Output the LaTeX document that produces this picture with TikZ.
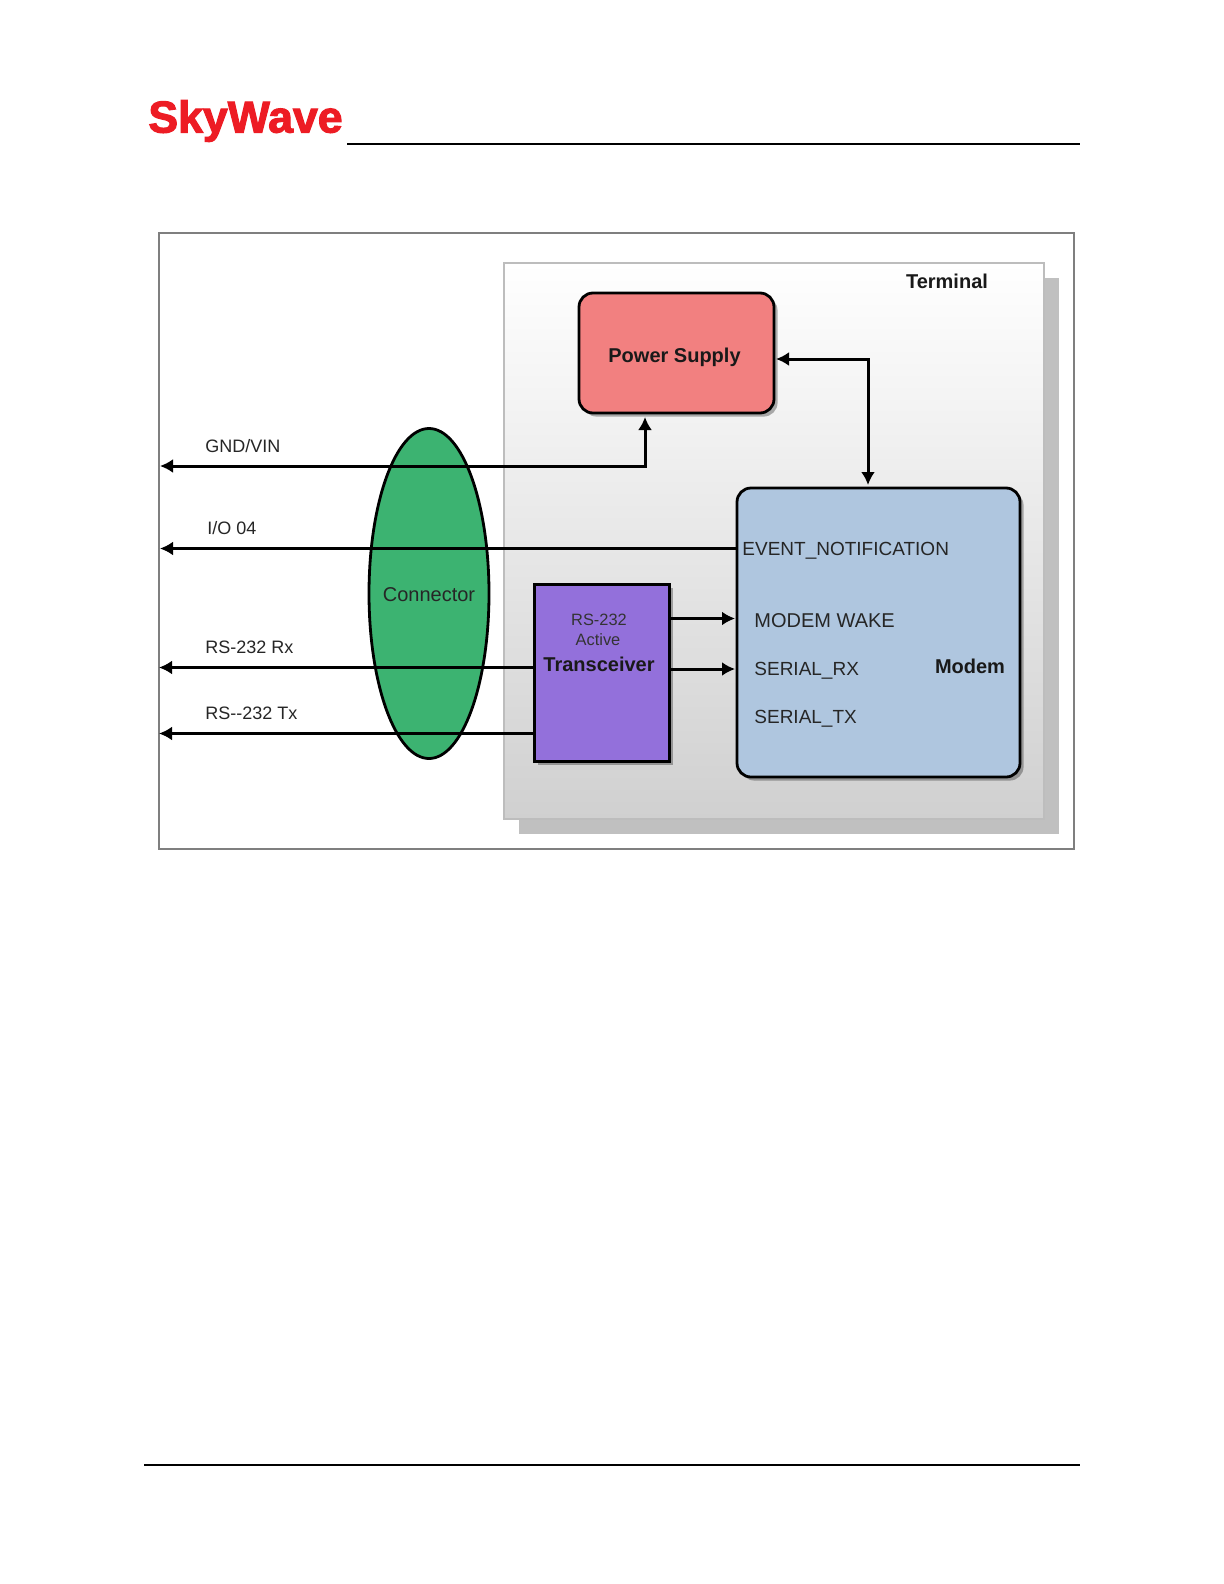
\documentclass[tikz,border=0pt]{standalone}
\usepackage{fontspec}
\setmainfont{Liberation Sans}
\newfontfamily\logofont[BoldFeatures={FakeBold=2.5}]{Liberation Sans}
\usetikzlibrary{arrows.meta,positioning,calc,shapes.geometric,shadows}
\usepackage{xcolor}
\definecolor{framegrey}{HTML}{7F7F7F}
\definecolor{termline}{HTML}{BDBDBD}
\definecolor{termshade}{HTML}{C0C0C0}
\definecolor{termlow}{HTML}{D0D0D0}
\definecolor{pwrred}{HTML}{F28080}
\definecolor{modemblue}{HTML}{AFC6DF}
\definecolor{xcvrpurple}{HTML}{9370DB}
\definecolor{connectgreen}{HTML}{3CB371}
\definecolor{logored}{HTML}{ED1C24}
\tikzset{
  blockshadow/.style={drop shadow={shadow xshift=1.8pt,shadow yshift=-1.8pt,fill=black,opacity=.3}},
  roundbox/.style={draw=black,line width=1.4pt,rounded corners=7pt,blockshadow,outer sep=0pt,inner sep=0pt},
  wire/.style={line width=1.5pt,draw=black},
  sigtext/.style={anchor=west,font=\fontsize{9.5}{12}\selectfont,text=black!85,inner sep=0pt},
  headtext/.style={font=\fontsize{10}{12}\selectfont\bfseries,text=black!90,inner sep=0pt},
  linetext/.style={sigtext,font=\fontsize{9}{11}\selectfont}
}
\begin{document}
\begin{tikzpicture}[x=0.5pt,y=-0.5pt,>={Latex[length=6.5pt,width=7pt]}]
  \useasboundingbox (0,0) rectangle (1224,1584);
  \fill[white] (0,0) rectangle (1224,1584);

  % page header and footer
  \node[anchor=west,inner sep=0pt,text=logored,font=\logofont\bfseries\fontsize{22.3}{24}\selectfont] (logo) at (148,121) {SkyWave};
  \coordinate (headl) at (347,144);
  \coordinate (headr) at (1080,144);
  \coordinate (footl) at (144,1465);
  \coordinate (footr) at (1080,1465);
  \draw[line width=1pt] (headl) -- (headr);
  \draw[line width=1pt] (footl) -- (footr);

  % outer frame
  \node[draw=framegrey,line width=1.1pt,minimum width=457.5pt,minimum height=308pt,inner sep=0pt] (frame) at (616.5,541) {};

  % terminal
  \fill[termshade] (519,278) rectangle (1059,834);
  \node[draw=termline,line width=1pt,top color=white,bottom color=termlow,minimum width=270pt,minimum height=278pt,inner sep=0pt] (terminal) at (774,541) {};
  \node[headtext] (termtext) at (947,281) {Terminal};

  % blocks
  \node[roundbox,fill=pwrred,minimum width=97.5pt,minimum height=60pt] (pwr) at (676.5,353) {};
  \node[headtext] (pwrtext) at (674.5,357) {Power Supply};
  \node[roundbox,fill=modemblue,minimum width=141.5pt,minimum height=144.5pt] (modem) at (878.5,632.5) {};
  \node[draw=black,line width=1.5pt,fill=xcvrpurple,blockshadow,minimum width=67.5pt,minimum height=88.5pt,inner sep=0pt,outer sep=0pt] (xcvr) at (601.5,673) {};
  \node[ellipse,draw=black,line width=1.4pt,fill=connectgreen,minimum width=60pt,minimum height=165pt,inner sep=0pt,outer sep=0pt] (connector) at (429,593.5) {};
  \node[inner sep=0pt,font=\fontsize{10}{12}\selectfont,text=black!85] (conntext) at (429,595) {Connector};

  % transceiver text
  \node[inner sep=0pt,font=\fontsize{8.2}{10}\selectfont,text=black!80] (rstext) at (599,620) {RS-232};
  \node[inner sep=0pt,font=\fontsize{8.2}{10}\selectfont,text=black!80] (activetext) at (598,640) {Active};
  \node[headtext] (xcvrtext) at (599,664) {Transceiver};

  % modem text
  \node[sigtext] (eventtext) at (742,551) {EVENT\_NOTIFICATION};
  \node[sigtext,font=\fontsize{10}{12}\selectfont] (waketext) at (754,621) {MODEM WAKE};
  \node[sigtext] (rxtext) at (754,671) {SERIAL\_RX};
  \node[sigtext] (txtext) at (754,719) {SERIAL\_TX};
  \node[headtext] (modemtext) at (970,666) {Modem};

  % line ends
  \coordinate (gndend) at (160,466);
  \coordinate (ioend) at (160,548.5);
  \coordinate (rxend) at (159,667.5);
  \coordinate (txend) at (159,733.5);
  \coordinate (wakeend) at (735,618.5);
  \coordinate (serialend) at (735,669);
  \coordinate (busbend) at (868,359);

  % connections
  \draw[wire,<->,shorten >=2pt] (gndend) -| ([xshift=-15.75pt]pwr.south);
  \draw[wire,->] (modem.west |- ioend) -- (ioend);
  \draw[wire,->] (xcvr.west |- rxend) -- (rxend);
  \draw[wire,->] (xcvr.west |- txend) -- (txend);
  \draw[wire,->] (xcvr.east |- wakeend) -- (wakeend);
  \draw[wire,->] (xcvr.east |- serialend) -- (serialend);
  \draw[wire,<->,shorten <=1pt,shorten >=1.5pt] (pwr.east |- busbend) -- (busbend) -- (busbend |- modem.north);

  % line labels
  \node[linetext] (gndtext) at (205,446) {GND/VIN};
  \node[linetext] (iotext) at (207,528) {I/O 04};
  \node[linetext] (rxlabel) at (205,647) {RS-232 Rx};
  \node[linetext] (txlabel) at (205,713) {RS-{}-232 Tx};
\end{tikzpicture}
\end{document}
